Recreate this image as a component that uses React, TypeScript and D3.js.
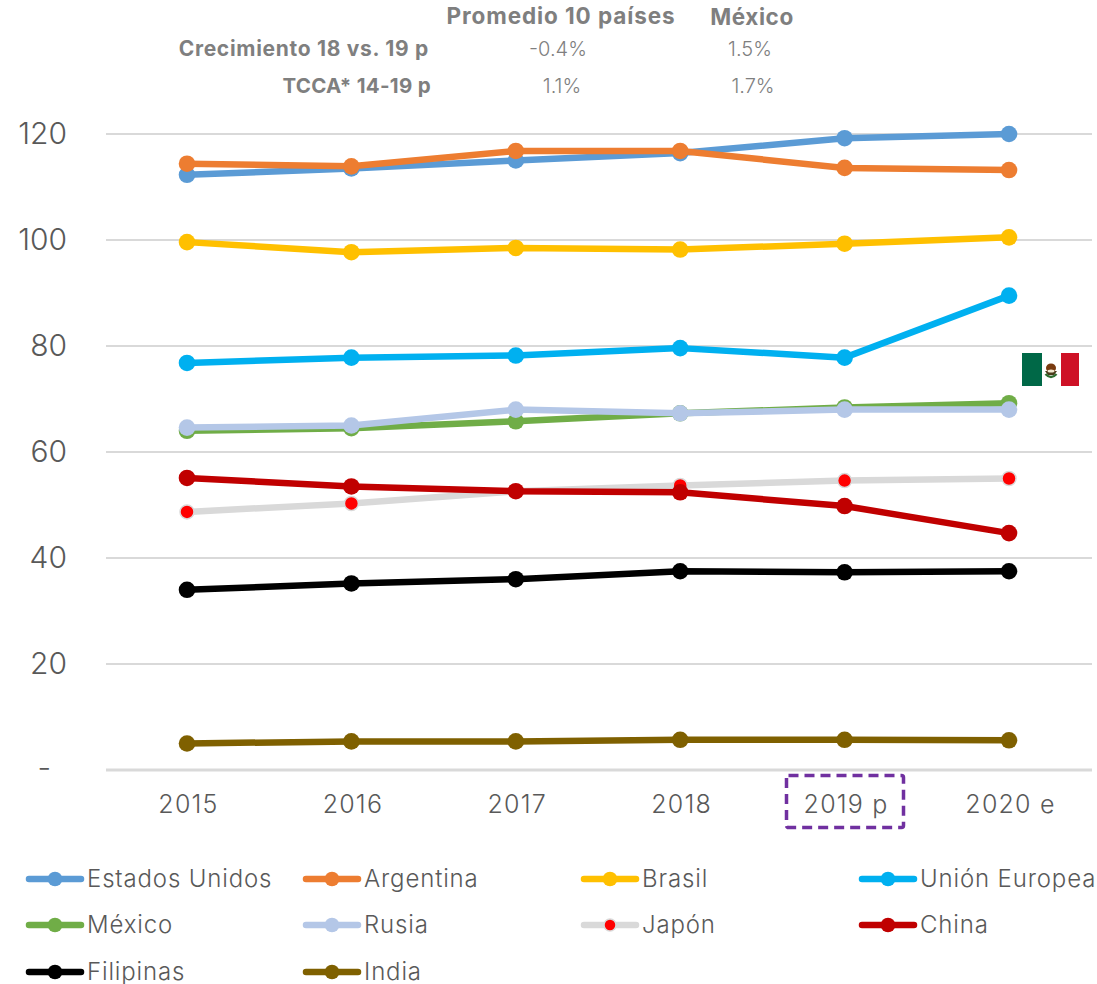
import React from "react";
import * as d3 from "d3";

const categories = ["2015", "2016", "2017", "2018", "2019 p", "2020 e"];
const estadosUnidos = [112.3, 113.5, 115, 116.4, 119.2, 120];
const argentina = [114.4, 113.9, 116.8, 116.8, 113.6, 113.2];
const brasil = [99.6, 97.7, 98.5, 98.2, 99.3, 100.5];
const unionEuropea = [76.8, 77.8, 78.2, 79.6, 77.8, 89.5];
const mexico = [64, 64.5, 65.8, 67.3, 68.4, 69.2];
const rusia = [64.6, 65, 68, 67.3, 68, 68];
const japon = [48.7, 50.3, 52.6, 53.7, 54.6, 55];
const china = [55.1, 53.5, 52.6, 52.4, 49.8, 44.7];
const filipinas = [34, 35.2, 36, 37.5, 37.3, 37.5];
const india = [5, 5.4, 5.4, 5.7, 5.7, 5.6];
const yTicks = [0, 20, 40, 60, 80, 100, 120];

const seriesList = [
  { name: "Estados Unidos", values: estadosUnidos, color: "#5B9BD5", marker: "#5B9BD5" },
  { name: "Argentina", values: argentina, color: "#ED7D31", marker: "#ED7D31" },
  { name: "Brasil", values: brasil, color: "#FFC000", marker: "#FFC000" },
  { name: "Unión Europea", values: unionEuropea, color: "#00B0F0", marker: "#00B0F0" },
  { name: "México", values: mexico, color: "#70AD47", marker: "#70AD47" },
  { name: "Rusia", values: rusia, color: "#B4C7E7", marker: "#B4C7E7" },
  { name: "Japón", values: japon, color: "#D9D9D9", marker: "#FF0000" },
  { name: "China", values: china, color: "#C00000", marker: "#C00000" },
  { name: "Filipinas", values: filipinas, color: "#000000", marker: "#000000" },
  { name: "India", values: india, color: "#7F6000", marker: "#7F6000" },
];

const W = 1097;
const H = 984;
const FONT = "Inter, 'Open Sans', sans-serif";
const TEXT = "#595959";
const HEAD = "#7F7F7F";

const x = d3.scalePoint<string>().domain(categories).range([187, 1009]);
const y = d3.scaleLinear().domain([0, 120]).range([770, 134]);
const line = d3.line<number>().x((_, i) => x(categories[i]) as number).y((d) => y(d));

const legendX = [27, 304, 582, 860];
const legendY = [879, 925, 972];

const headerRows = [
  { label: "Crecimiento 18 vs. 19 p", avg: "-0.4%", mx: "1.5%", yPos: 56, avgX: 558, mxX: 750, labelX: 429, size: 21, spacing: 0.7 },
  { label: "TCCA* 14-19 p", avg: "1.1%", mx: "1.7%", yPos: 93, avgX: 562, mxX: 753, labelX: 431, size: 20.5, spacing: 0.3 },
];

export default function App() {
  return (
    <svg width={W} height={H} viewBox={`0 0 ${W} ${H}`} fontFamily={FONT}
      style={{ position: "absolute", left: 0, top: 0, display: "block", background: "#fff" }}>
      <text x={561} y={24} textAnchor="middle" fontSize={22.5} fontWeight={700} fill={HEAD} letterSpacing={0.9}>Promedio 10 países</text>
      <text x={752} y={25} textAnchor="middle" fontSize={22.5} fontWeight={700} fill={HEAD} letterSpacing={0.6}>México</text>
      {headerRows.map((r) => (
        <g key={r.label}>
          <text x={r.labelX} y={r.yPos} textAnchor="end" fontSize={r.size} fontWeight={700} fill={HEAD} letterSpacing={r.spacing}>{r.label}</text>
          <text x={r.avgX} y={r.yPos} textAnchor="middle" fontSize={20} fontWeight={300} fill={HEAD}>{r.avg}</text>
          <text x={r.mxX} y={r.yPos} textAnchor="middle" fontSize={20} fontWeight={300} fill={HEAD}>{r.mx}</text>
        </g>
      ))}

      {yTicks.map((t) => (
        <g key={t}>
          <line x1={106} x2={1092} y1={y(t)} y2={y(t)} stroke="#D9D9D9" strokeWidth={t === 0 ? 3 : 2} />
          <text x={t === 0 ? 51 : 67} y={y(t) + (t === 0 ? 8 : 10)} textAnchor="end" fontSize={30} fill={TEXT} fontWeight={300}>
            {t === 0 ? "-" : t}
          </text>
        </g>
      ))}

      {categories.map((c) => (
        <text key={c} x={(x(c) as number) + 1.5} y={813} textAnchor="middle" fontSize={25} fontWeight={300} fill={TEXT} letterSpacing={1.2}>{c}</text>
      ))}
      <rect x={786.5} y={775.5} width={117} height={52} rx={2} fill="none" stroke="#7030A0" strokeWidth={3.5} strokeDasharray="10 6" />

      {seriesList.map((s) => {
        const isJapon = s.name === "Japón";
        return (
          <g key={s.name}>
            <path d={line(s.values) ?? ""} fill="none" stroke={s.color} strokeWidth={6.5} strokeLinejoin="round" strokeLinecap="round" />
            {s.values.map((v, i) => (
              <circle key={i} cx={x(categories[i])} cy={y(v)} r={isJapon ? 7 : 8.3} fill={s.marker}
                stroke={isJapon ? s.color : "none"} strokeWidth={isJapon ? 1.5 : 0} />
            ))}
          </g>
        );
      })}

      <g>
        <rect x={1022} y={353} width={20} height={33} fill="#006847" />
        <rect x={1061} y={353} width={18} height={33} fill="#CE1126" />
        <ellipse cx={1051} cy={368} rx={5} ry={4.5} fill="#7A3B10" />
        <path d="M1045 371 L1057 371 L1054 375 L1048 375 Z" fill="#4A3A1A" />
        <ellipse cx={1051} cy={371} rx={3.5} ry={1.5} fill="#F0E8D0" />
        <path d="M1045.5 374 Q1051 380 1056.5 374" fill="none" stroke="#2E6B2E" strokeWidth={2.5} />
      </g>

      {seriesList.map((s, i) => {
        const lx = legendX[i % 4];
        const ly = legendY[Math.floor(i / 4)];
        const isJapon = s.name === "Japón";
        return (
          <g key={s.name}>
            <line x1={lx + 2} x2={lx + 54} y1={ly} y2={ly} stroke={s.color} strokeWidth={6.5} strokeLinecap="round" />
            <circle cx={lx + 28} cy={ly} r={isJapon ? 6 : 7.3} fill={s.marker}
              stroke={isJapon ? s.color : "none"} strokeWidth={isJapon ? 1.5 : 0} />
            <text x={lx + 60} y={ly + 8} fontSize={24} fontWeight={300} fill={TEXT} letterSpacing={0.85}>{s.name}</text>
          </g>
        );
      })}
    </svg>
  );
}
